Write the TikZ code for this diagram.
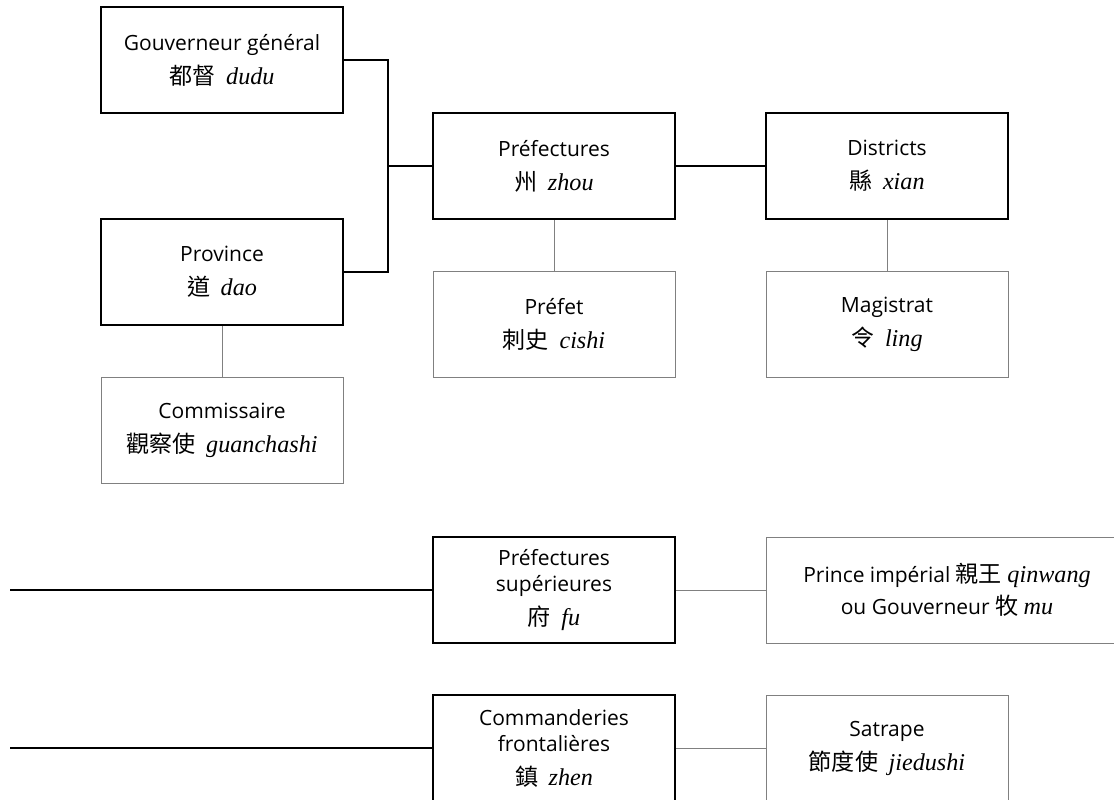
\documentclass[tikz,border=0pt]{standalone}
\usepackage{fontspec}
\setmainfont{Open Sans}
\newfontfamily\cjk[Scale=1.1]{Noto Sans CJK TC}
\newfontfamily\romfont[Scale=1.15]{Liberation Serif}
\newcommand{\han}[1]{{\cjk #1}}
\newcommand{\pinyin}[1]{{\romfont\itshape #1}}
\usetikzlibrary{positioning}

\begin{document}
\begin{tikzpicture}[x=0.5pt,y=-0.5pt]
\tikzset{
  unit/.style={draw=black,line width=1.1pt,minimum width=121pt,minimum height=53pt,
    align=center,inner sep=0pt,font=\fontsize{10.5}{13}\selectfont},
  office/.style={unit,draw=black!50,line width=0.5pt},
  link/.style={line width=1.1pt},
  sublink/.style={draw=black!50,line width=0.5pt}
}
\useasboundingbox (0,0) rectangle (1114,799);
\clip (0,0) rectangle (1114,799);

\node[unit] (dudu) at (222,60) {Gouverneur général\\[4pt]\han{都督}\hspace{0.5em}\pinyin{dudu}};
\node[unit] (dao) at (222,272) {Province\\[4pt]\han{道}\hspace{0.5em}\pinyin{dao}};
\node[office] (guanchashi) at (222,430) {Commissaire\\[4pt]\han{觀察使}\hspace{0.5em}\pinyin{guanchashi}};

\node[unit] (zhou) at (554,166) {Préfectures\\[4pt]\han{州}\hspace{0.5em}\pinyin{zhou}};
\node[office] (cishi) at (554,324.5) {Préfet\\[4pt]\han{刺史}\hspace{0.5em}\pinyin{cishi}};
\node[unit] (xian) at (887,166) {Districts\\[4pt]\han{縣}\hspace{0.5em}\pinyin{xian}};
\node[office] (ling) at (887,324.5) {Magistrat\\[4pt]\han{令}\hspace{0.5em}\pinyin{ling}};

\node[unit] (fu) at (554,590) {Préfectures\\supérieures\\[4pt]\han{府}\hspace{0.5em}\pinyin{fu}};
\node[office,minimum width=181pt] (mu) at (947,590) {Prince impérial \han{親王} \pinyin{qinwang}\\[3pt]ou Gouverneur \han{牧} \pinyin{mu}};
\node[unit] (zhen) at (554,748) {Commanderies\\frontalières\\[4pt]\han{鎮}\hspace{0.5em}\pinyin{zhen}};
\node[office] (jiedushi) at (887,748) {Satrape\\[4pt]\han{節度使}\hspace{0.5em}\pinyin{jiedushi}};

\coordinate (fork) at (388,166);
\coordinate (fuin) at (10,590);
\coordinate (zhenin) at (10,748);

\draw[link] (dudu.east) -| (fork) |- (dao.east);
\draw[link] (fork) -- (zhou.west);
\draw[link] (zhou) -- (xian);
\draw[link] (fuin) -- (fu.west);
\draw[link] (zhenin) -- (zhen.west);

\draw[sublink] (dao) -- (guanchashi);
\draw[sublink] (zhou) -- (cishi);
\draw[sublink] (xian) -- (ling);
\draw[sublink] (fu) -- (mu);
\draw[sublink] (zhen) -- (jiedushi);
\end{tikzpicture}
\end{document}
